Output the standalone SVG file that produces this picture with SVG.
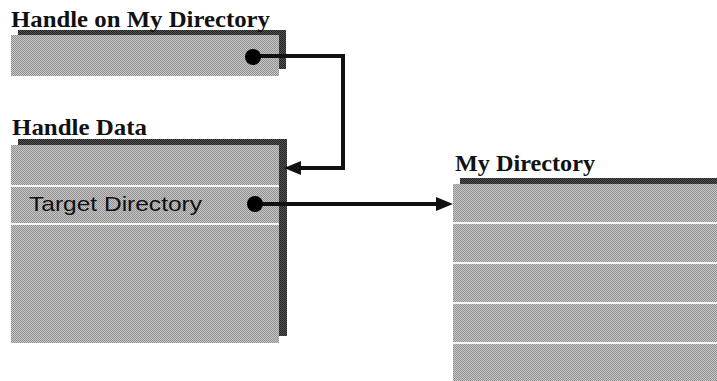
<svg xmlns="http://www.w3.org/2000/svg" width="717" height="381" viewBox="0 0 717 381">
<style>
.title{font-family:"Liberation Serif","Times New Roman",serif;font-weight:bold;font-size:24px;fill:#111}
.field{font-family:"Liberation Sans",Arial,sans-serif;font-size:21px;fill:#111}
.box{fill:url(#tex)}
.shadow{fill:url(#dark)}
.sep{fill:#f4f4f4}
.wire{fill:none;stroke:#111;stroke-width:4}
.dot{fill:#000}
</style>
<defs>
<pattern id="tex" width="2" height="2" patternUnits="userSpaceOnUse">
<rect width="2" height="2" fill="#c8c8c8"/>
<rect width="1" height="1" fill="#909090"/>
<rect x="1" y="1" width="1" height="1" fill="#909090"/>
</pattern>
<pattern id="dark" width="2" height="2" patternUnits="userSpaceOnUse">
<rect width="2" height="2" fill="#555"/>
<rect width="1" height="1" fill="#222"/>
<rect x="1" y="1" width="1" height="1" fill="#222"/>
</pattern>
<marker id="arrow" markerUnits="userSpaceOnUse" markerWidth="18" markerHeight="14" refX="1" refY="7" orient="auto">
<path d="M0,0 L17,7 L0,14 z" fill="#111"/>
</marker>
</defs>
<rect width="717" height="381" fill="#fff"/>
<g id="handle">
<rect class="shadow" x="18" y="30" width="268" height="39"/>
<rect class="box" x="11" y="35" width="268" height="41"/>
<text class="title" x="11" y="27" textLength="259" lengthAdjust="spacingAndGlyphs">Handle on My Directory</text>
</g>
<g id="handle-data">
<rect class="shadow" x="18" y="139" width="269" height="197"/>
<rect class="box" x="11" y="145" width="268" height="198"/>
<rect class="sep" x="11" y="185" width="268" height="2"/>
<rect class="sep" x="11" y="223" width="268" height="2"/>
<text class="title" x="12" y="135" textLength="135" lengthAdjust="spacingAndGlyphs">Handle Data</text>
<text class="field" x="29" y="211" textLength="173" lengthAdjust="spacingAndGlyphs">Target Directory</text>
</g>
<g id="my-directory">
<rect class="shadow" x="460" y="178" width="257" height="20"/>
<rect class="box" x="453" y="184" width="264" height="197"/>
<rect class="sep" x="453" y="222" width="264" height="2"/>
<rect class="sep" x="453" y="262" width="264" height="2"/>
<rect class="sep" x="453" y="302" width="264" height="2"/>
<rect class="sep" x="453" y="342" width="264" height="2"/>
<text class="title" x="455" y="171" textLength="140" lengthAdjust="spacingAndGlyphs">My Directory</text>
</g>
<g id="connectors">
<path class="wire" d="M253,56 H343 V168 H300" marker-end="url(#arrow)"/>
<circle class="dot" cx="253" cy="57" r="8"/>
<path class="wire" d="M255,204 H437" marker-end="url(#arrow)"/>
<circle class="dot" cx="255" cy="204" r="8"/>
</g>
</svg>
